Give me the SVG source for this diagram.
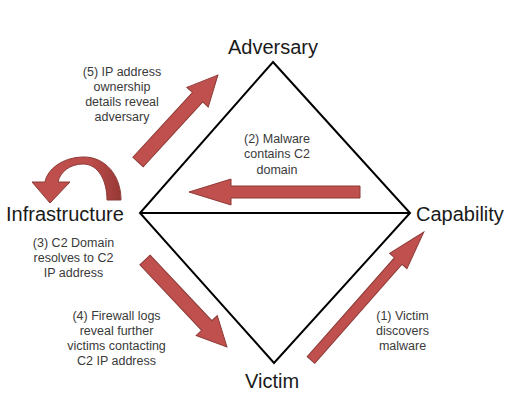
<svg xmlns="http://www.w3.org/2000/svg" width="514" height="403" viewBox="0 0 514 403">
  <style>
    .vertex { font-family: "Liberation Sans", Arial, sans-serif; font-size: 20px; fill: #1a1a1a; }
    .note { font-family: "Liberation Sans", Arial, sans-serif; font-size: 12.5px; fill: #3a3a3a; text-anchor: middle; }
    .edge { stroke: #000; stroke-width: 2; fill: none; stroke-linejoin: miter; }
    .arrow { fill: #c0504d; stroke: #8c3a37; stroke-width: 1; stroke-linejoin: miter; }
  </style>
  <defs>
    <linearGradient id="curl" gradientUnits="userSpaceOnUse" x1="32" y1="0" x2="121" y2="0">
      <stop offset="0" stop-color="#c0504d"/>
      <stop offset="0.65" stop-color="#bd4d4a"/>
      <stop offset="1" stop-color="#963835"/>
    </linearGradient>
  </defs>
  <rect width="514" height="403" fill="#ffffff"/>

  <g id="connectors">
    <path class="edge" d="M273,62 L410,213 L274,363 L140,213 Z"/>
    <line class="edge" x1="140" y1="213" x2="410" y2="213"/>
  </g>

  <g id="adversary">
    <text class="vertex" x="273" y="54" text-anchor="middle">Adversary</text>
  </g>
  <g id="infrastructure">
    <text class="vertex" x="6" y="220.5">Infrastructure</text>
  </g>
  <g id="capability">
    <text class="vertex" x="416" y="221">Capability</text>
  </g>
  <g id="victim">
    <text class="vertex" x="245" y="388">Victim</text>
  </g>

  <g id="arrow-curl">
    <path d="M121,200 C121,175 105,157 84,157 C62,157 47,170 45,182 L32,182 L50,203 L70,182 L58,182 C60,172 70,164 83,164 C98,164 107,180 107,200 Z" fill="url(#curl)" stroke="#8c3a37" stroke-width="1"/>
  </g>
  <g id="arrow-5">
    <polygon class="arrow" transform="translate(138,162) rotate(-47.4)" points="0,-7 88,-7 88,-14.5 118,0 88,14.5 88,7 0,7"/>
  </g>
  <g id="arrow-2">
    <polygon class="arrow" transform="translate(360,192) rotate(180)" points="0,-6 129,-6 129,-13 171,0 129,13 129,6 0,6"/>
  </g>
  <g id="arrow-4">
    <polygon class="arrow" transform="translate(145,260) rotate(46.7)" points="0,-7 90,-7 90,-14.5 119.5,0 90,14.5 90,7 0,7"/>
  </g>
  <g id="arrow-1">
    <polygon class="arrow" transform="translate(311,360) rotate(-48.6)" points="0,-5 132,-5 132,-11.5 170.5,0 132,11.5 132,5 0,5"/>
  </g>

  <g id="note-5">
    <text class="note" x="122" y="75.5">(5) IP address</text>
    <text class="note" x="122" y="90.8">ownership</text>
    <text class="note" x="122" y="106.1">details reveal</text>
    <text class="note" x="122" y="121.4">adversary</text>
  </g>
  <g id="note-2">
    <text class="note" x="277" y="142.5">(2) Malware</text>
    <text class="note" x="277" y="158.3">contains C2</text>
    <text class="note" x="277" y="174.1">domain</text>
  </g>
  <g id="note-3">
    <text class="note" x="73.5" y="246.5">(3) C2 Domain</text>
    <text class="note" x="73.5" y="261.5">resolves to C2</text>
    <text class="note" x="73.5" y="276.5">IP address</text>
  </g>
  <g id="note-4">
    <text class="note" x="116.5" y="319.5">(4) Firewall logs</text>
    <text class="note" x="116.5" y="334.8">reveal further</text>
    <text class="note" x="116.5" y="350.1">victims contacting</text>
    <text class="note" x="116.5" y="365.4">C2 IP address</text>
  </g>
  <g id="note-1">
    <text class="note" x="402.5" y="319.5">(1) Victim</text>
    <text class="note" x="402.5" y="334.8">discovers</text>
    <text class="note" x="402.5" y="350.1">malware</text>
  </g>
</svg>
